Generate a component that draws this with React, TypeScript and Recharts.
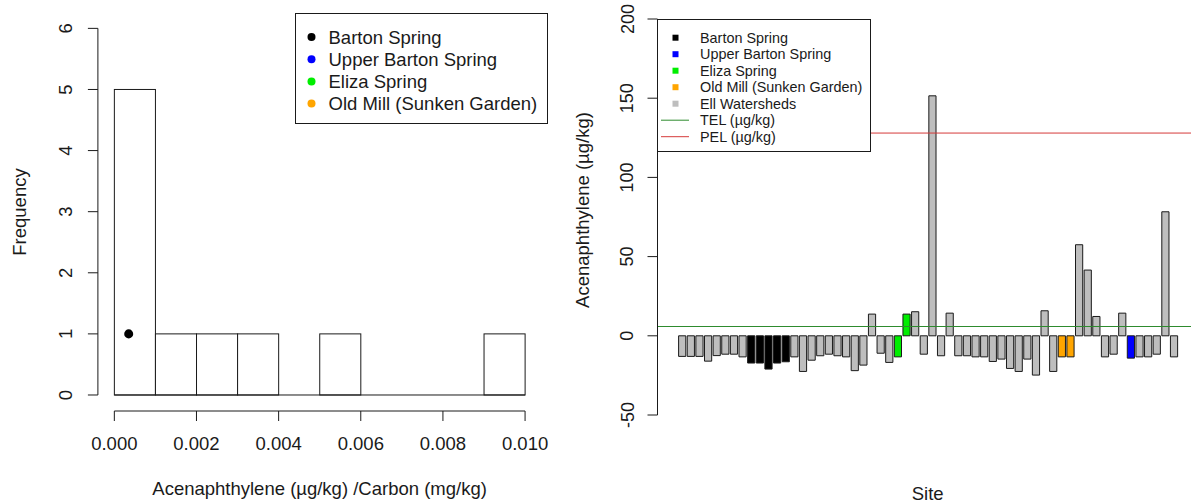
import {
  ComposedChart,
  BarChart,
  Bar,
  Cell,
  Scatter,
  XAxis,
  YAxis,
  ReferenceLine,
  Legend,
} from "recharts";

const FONT = '"Liberation Sans", Arial, Helvetica, sans-serif';
const INK = "#1a1a1a";

// Histogram: Acenaphthylene / Carbon ratio
const binStarts = [0, 0.001, 0.002, 0.003, 0.004, 0.005, 0.006, 0.007, 0.008, 0.009];
const binCounts = [5, 1, 1, 1, 0, 1, 0, 0, 0, 1];
const binWidth = 0.001;
const ratioTicks = [0, 0.002, 0.004, 0.006, 0.008, 0.01];
const freqTicks = [0, 1, 2, 3, 4, 5, 6];
const bartonRatio = 0.00035;
const bartonFreq = 1;

const springNames = ["Barton Spring", "Upper Barton Spring", "Eliza Spring", "Old Mill (Sunken Garden)"];

// Bar chart: Acenaphthylene by site (µg/kg)
const siteValues = [
  -13, -13, -13, -16, -12.5, -11.6, -11.6, -13.3, -17.2, -17.2,
  -21, -17.2, -16.4, -13.3, -22.5, -15.4, -12.6, -11.6, -12.6, -13.3,
  -22, -18.5, 13.7, -11, -16.8, -13.3, 13.7, 15.2, -11.6, 151.5,
  -12.6, 14.3, -12.6, -12.6, -13.3, -13.3, -16.2, -14.7, -20.6, -22.5,
  -14.7, -24.8, 15.8, -22.5, -13.3, -13.3, 57.5, 41.5, 12.2, -13.3,
  -11.6, 14.3, -14.1, -13.3, -13.3, -11.6, 78.3, -13.3,
];
const bartonSites = [9, 10, 11, 12, 13];
const upperBartonSites = [53];
const elizaSites = [26, 27];
const oldMillSites = [45, 46];
const concTicks = [-50, 0, 50, 100, 150, 200];
const TEL = 5.87;
const PEL = 128;

const siteLegend = [...springNames, "Ell Watersheds"];
const lineLegend = ["TEL (µg/kg)", "PEL (µg/kg)"];

const springColors = ["#000000", "#0000ff", "#00ee00", "#ffa500"];
const ellColor = "#bebebe";
const telColor = "#2e8b2e";
const pelColor = "#d63a3a";

const histData = binStarts.map((b, i) => ({ mid: b + binWidth / 2, count: binCounts[i] }));
const bartonPoint = [{ mid: bartonRatio, count: bartonFreq }];

const siteData = siteValues.map((value, i) => ({ site: i + 1, value }));

const siteColor = (site: number) => {
  if (bartonSites.includes(site)) return springColors[0];
  if (upperBartonSites.includes(site)) return springColors[1];
  if (elizaSites.includes(site)) return springColors[2];
  if (oldMillSites.includes(site)) return springColors[3];
  return ellColor;
};

// layout of the histogram panel
const H_W = 560;
const H_H = 504;
const hMargin = { top: 13.7, right: 18.5, bottom: 0, left: 0 };
const hYAxisW = 97.9;
const hXAxisH = 93;
const hDomainX: [number, number] = [-0.0004, 0.0104];
const hDomainY: [number, number] = [-0.262, 6.24];
const hPxPerUnit = (H_W - hMargin.left - hMargin.right - hYAxisW) / (hDomainX[1] - hDomainX[0]);
const hBinPx = binWidth * hPxPerUnit;

// layout of the site panel
const S_W = 631;
const S_H = 504;
const sMargin = { top: 19, right: 0, bottom: 0, left: 0 };
const sYAxisW = 97.5;
const sXAxisH = 89;
const sDomainX: [number, number] = [-1.83, 60];
const sPxPerSite = (S_W - sMargin.left - sMargin.right - sYAxisW) / (sDomainX[1] - sDomainX[0]);

const RotTick = (props: any) => {
  const { x, y, payload, size } = props;
  return (
    <text
      x={x}
      y={y}
      transform={`rotate(-90 ${x} ${y})`}
      textAnchor="middle"
      fill={INK}
      fontSize={size}
      fontFamily={FONT}
    >
      {payload.value}
    </text>
  );
};

// axis titles placed at fixed spots (px, py) inside the chart svg
const VTitle = ({ value, px, py, size }: any) => (
  <text
    x={px}
    y={py}
    transform={`rotate(-90 ${px} ${py})`}
    textAnchor="middle"
    fill={INK}
    fontSize={size}
    fontFamily={FONT}
  >
    {value}
  </text>
);

const HTitle = ({ value, px, py, size }: any) => (
  <text x={px} y={py} textAnchor="middle" fill={INK} fontSize={size} fontFamily={FONT}>
    {value}
  </text>
);

// histogram cell: one full bin wide, centred on the bin midpoint
const HistBar = (props: any) => {
  const { x, y, width, height } = props;
  if (!height) return null;
  const cx = x + width / 2;
  return (
    <rect x={cx - hBinPx / 2} y={y} width={hBinPx} height={height} fill="#fff" stroke={INK} strokeWidth={1} />
  );
};

const HistLegend = () => (
  <div
    style={{
      width: 253,
      height: 111,
      border: `1px solid ${INK}`,
      background: "#fff",
      boxSizing: "border-box",
    }}
  >
    <svg width={251} height={109}>
      {springNames.map((name, i) => (
        <g key={name}>
          <circle cx={15.5} cy={23 + i * 22.2} r={4} fill={springColors[i]} />
          <text
            x={32.5}
            y={23 + i * 22.2}
            dy="0.36em"
            fill={INK}
            fontSize={18.5}
            fontFamily={FONT}
          >
            {name}
          </text>
        </g>
      ))}
    </svg>
  </div>
);

const SiteLegend = () => (
  <div
    style={{
      width: 214,
      height: 133,
      border: `1px solid ${INK}`,
      background: "#fff",
      boxSizing: "border-box",
    }}
  >
    <svg width={212} height={131}>
      {siteLegend.map((name, i) => (
        <g key={name}>
          <rect
            x={14.5}
            y={17.7 + i * 16.5 - 3}
            width={6}
            height={6}
            fill={i < springColors.length ? springColors[i] : ellColor}
          />
          <text x={42} y={17.7 + i * 16.5} dy="0.36em" fill={INK} fontSize={14.4} fontFamily={FONT}>
            {name}
          </text>
        </g>
      ))}
      {lineLegend.map((name, j) => {
        const cy = 17.7 + (siteLegend.length + j) * 16.5;
        return (
          <g key={name}>
            <line x1={3} x2={31} y1={cy} y2={cy} stroke={j === 0 ? telColor : pelColor} strokeWidth={1} />
            <text x={42} y={cy} dy="0.36em" fill={INK} fontSize={14.4} fontFamily={FONT}>
              {name}
            </text>
          </g>
        );
      })}
    </svg>
  </div>
);

const App = () => {
  return (
    <div style={{ position: "absolute", left: 0, top: 0, width: 1191, height: 504, background: "#fff" }}>
      {/* Histogram */}
      <div style={{ position: "absolute", left: 0, top: 0 }}>
        <ComposedChart width={H_W} height={H_H} data={histData} margin={hMargin}>
          <XAxis
            type="number"
            dataKey="mid"
            domain={hDomainX}
            ticks={ratioTicks}
            interval={0}
            allowDataOverflow
            axisLine={false}
            tickLine={{ stroke: INK }}
            tickSize={10}
            tickMargin={16}
            tick={{ fill: INK, fontSize: 18.5, fontFamily: FONT }}
            tickFormatter={(v: number) => v.toFixed(3)}
            height={hXAxisH}
            label={<HTitle value="Acenaphthylene (µg/kg) /Carbon (mg/kg)" px={319.6} py={495} size={18.5} />}
          />
          <YAxis
            type="number"
            domain={hDomainY}
            ticks={freqTicks}
            interval={0}
            allowDataOverflow
            axisLine={false}
            tickLine={{ stroke: INK }}
            tickSize={10}
            tickMargin={16.3}
            tick={<RotTick size={18.5} />}
            width={hYAxisW}
            label={<VTitle value="Frequency" px={25.5} py={212} size={18.5} />}
          />
          <ReferenceLine
            segment={[{ x: hDomainX[0], y: 0 }, { x: hDomainX[0], y: 6 }]}
            stroke={INK}
          />
          <ReferenceLine
            segment={[{ x: 0, y: hDomainY[0] }, { x: 0.01, y: hDomainY[0] }]}
            stroke={INK}
          />
          <ReferenceLine segment={[{ x: 0, y: 0 }, { x: 0.01, y: 0 }]} stroke={INK} />
          <Bar dataKey="count" shape={<HistBar />} isAnimationActive={false} />
          <Scatter data={bartonPoint} dataKey="count" fill="#000" isAnimationActive={false} />
          <Legend
            layout="vertical"
            align="center"
            verticalAlign="middle"
            wrapperStyle={{ left: 295, top: 12.7, width: 253, height: 111 }}
            content={() => <HistLegend />}
          />
        </ComposedChart>
      </div>

      {/* Acenaphthylene by site */}
      <div style={{ position: "absolute", left: 560, top: 0 }}>
        <BarChart width={S_W} height={S_H} data={siteData} margin={sMargin}>
          <XAxis
            type="number"
            dataKey="site"
            domain={sDomainX}
            allowDataOverflow
            axisLine={false}
            tickLine={false}
            tick={false}
            height={sXAxisH}
            label={<HTitle value="Site" px={367.7} py={500} size={18.5} />}
          />
          <YAxis
            type="number"
            domain={[-50, 200]}
            ticks={concTicks}
            interval={0}
            allowDataOverflow
            axisLine={{ stroke: INK }}
            tickLine={{ stroke: INK }}
            tickSize={10}
            tickMargin={14}
            tick={<RotTick size={18} />}
            width={sYAxisW}
            label={<VTitle value="Acenaphthylene (µg/kg)" px={28.6} py={210} size={18.5} />}
          />
          <Bar
            dataKey="value"
            barSize={sPxPerSite / 1.2}
            stroke={INK}
            strokeWidth={1}
            isAnimationActive={false}
          >
            {siteData.map((d) => (
              <Cell key={d.site} fill={siteColor(d.site)} />
            ))}
          </Bar>
          <ReferenceLine y={TEL} stroke={telColor} />
          <ReferenceLine y={PEL} stroke={pelColor} />
          <Legend
            layout="vertical"
            align="center"
            verticalAlign="middle"
            wrapperStyle={{ left: 97, top: 19, width: 214, height: 133 }}
            content={() => <SiteLegend />}
          />
        </BarChart>
      </div>
    </div>
  );
};

export default App;
